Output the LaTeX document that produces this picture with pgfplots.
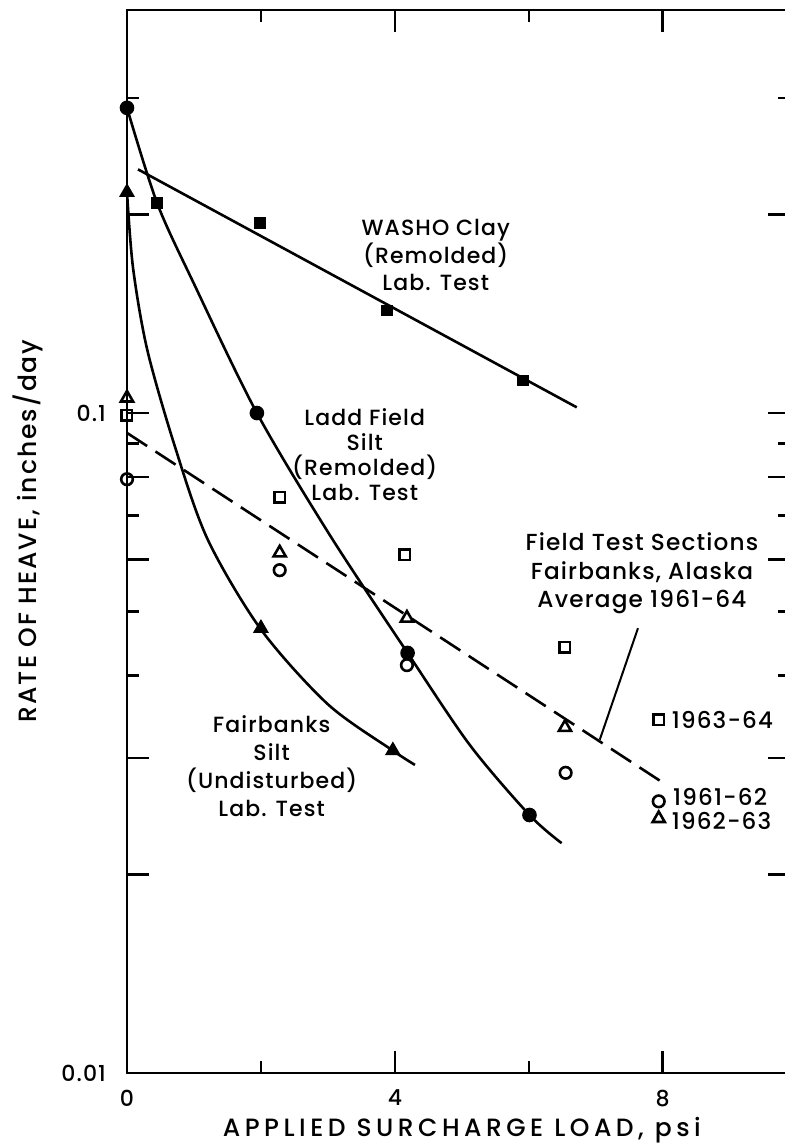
\documentclass[border=0pt]{standalone}
\usepackage{fontspec}
\setmainfont{Poppins}[LetterSpace=5, BoldFont={Poppins Medium}]
\newfontfamily\xlabfont{Poppins}[LetterSpace=18, BoldFont={Poppins Medium}]
\newfontfamily\ylabfont{Poppins}[LetterSpace=8, BoldFont={Poppins Medium}]
\usepackage{pgfplots}
\pgfplotsset{compat=1.18}
\begin{document}
\begin{tikzpicture}
\begin{axis}[
  scale only axis, width=331.5pt, height=531.5pt,
  xmin=0, xmax=9.9, ymode=log, ymin=0.01, ymax=0.408,
  clip=false,
  xtick={0,4,8}, minor xtick={2,6},
  ytick={0.01,0.02,0.03,0.06,0.08,0.1,0.2},
  yticklabels={0.01,,,,,0.1,},
  minor ytick={0.04,0.05,0.07,0.09,0.3},
  tick align=inside, major tick length=11pt, minor tick length=6pt,
  axis line style={line width=1.3pt},
  every tick/.style={line width=1.3pt, black},
  /pgf/number format/assume math mode=true,
  tick label style={font=\fontsize{11}{13}\selectfont\bfseries},
  yticklabel style={xshift=-7pt},
  xticklabel style={yshift=-5pt},
  xlabel={\xlabfont\bfseries APPLIED SURCHARGE LOAD, psi},
  ylabel={\ylabfont\bfseries RATE OF HEAVE, inches/day},
  every axis x label/.style={at={(axis description cs:0.505,-0.0535)}, anchor=center, font=\fontsize{12.5}{14}\selectfont},
  every axis y label/.style={at={(axis description cs:-0.149,0.51)}, rotate=90, anchor=center, font=\fontsize{12.5}{14}\selectfont},
  every axis plot/.append style={line width=1.3pt, black},
]
% WASHO Clay line and markers
\addplot[no marks] coordinates {(0.164,0.234) (6.716,0.102)};
\addplot[only marks, mark=square*, mark size=2.3pt] coordinates {(0.45,0.208) (1.99,0.194) (3.88,0.143) (5.91,0.112)};
% Ladd Field Silt curve and markers
\addplot[no marks, smooth] coordinates {(0,0.290) (0.45,0.208) (1.0,0.157) (1.94,0.100) (3.03,0.0653) (4.19,0.0433) (5.12,0.0314) (6.01,0.0246) (6.49,0.0223)};
\addplot[only marks, mark=*, mark size=3pt] coordinates {(0,0.290) (1.94,0.100) (4.19,0.0433) (6.01,0.0246)};
% Fairbanks Silt curve and markers
\addplot[no marks, smooth] coordinates {(0,0.216) (0.09,0.166) (0.3,0.125) (0.7,0.090) (1.2,0.0645) (2.0,0.047) (3.0,0.0362) (3.97,0.0308) (4.3,0.0293)};
\addplot[only marks, mark=triangle*, mark size=3.3pt] coordinates {(0,0.216) (2.0,0.0472) (3.97,0.0308)};
% Field test sections average (dashed)
\addplot[no marks, dash pattern=on 12pt off 5pt] coordinates {(0,0.0933) (8.06,0.0273)};
% leader line
\addplot[no marks, line width=1pt] coordinates {(7.63,0.0472) (7.06,0.0320)};
% Field test data: 1963-64 squares
\addplot[only marks, mark=square, mark size=2.6pt, mark options={fill=white, line width=1.3pt}] coordinates {(0,0.0993) (2.28,0.0746) (4.15,0.0610) (6.54,0.0442) (7.94,0.0343)};
% 1962-63 triangles
\addplot[only marks, mark=triangle, mark size=3.5pt, mark options={fill=white, line width=1.3pt}] coordinates {(0,0.1054) (2.28,0.0614) (4.18,0.0489) (6.54,0.0334) (7.94,0.0243)};
% 1961-62 circles
\addplot[only marks, mark=o, mark size=2.9pt, mark options={fill=white, line width=1.3pt}] coordinates {(0,0.0794) (2.28,0.0578) (4.18,0.0415) (6.55,0.0285) (7.94,0.0258)};
% annotations
\node[align=center, font=\fontsize{11}{13.75}\selectfont\bfseries] at (axis cs:4.61,0.1734) {WASHO Clay\\(Remolded)\\Lab. Test};
\node[align=center, font=\fontsize{11}{12.5}\selectfont\bfseries] at (axis cs:3.55,0.0866) {Ladd Field\\Silt\\(Remolded)\\Lab. Test};
\node[align=center, font=\fontsize{11}{14}\selectfont\bfseries] at (axis cs:2.16,0.0292) {Fairbanks\\Silt\\(Undisturbed)\\Lab. Test};
\node[align=center, font=\fontsize{11.6}{14.25}\selectfont\bfseries] at (axis cs:7.69,0.0571) {Field Test Sections\\Fairbanks, Alaska\\Average 1961-64};
\node[anchor=west, inner sep=1pt, font=\fontsize{11.5}{13}\selectfont\bfseries] at (axis cs:8.10,0.0343) {1963-64};
\node[anchor=west, inner sep=1pt, font=\fontsize{11.5}{13}\selectfont\bfseries] at (axis cs:8.12,0.0262) {1961-62};
\node[anchor=west, inner sep=1pt, font=\fontsize{11.5}{13}\selectfont\bfseries] at (axis cs:8.10,0.0241) {1962-63};
\end{axis}
\pgfresetboundingbox
\path[use as bounding box] ([shift={(-63.5pt,-37.5pt)}]current axis.south west) rectangle ([shift={(329pt,5pt)}]current axis.north west);
\end{tikzpicture}
\end{document}
